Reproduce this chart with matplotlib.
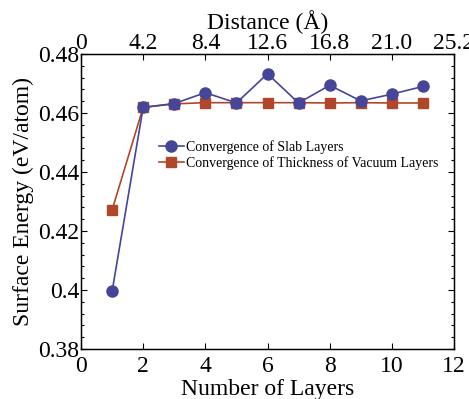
import matplotlib
matplotlib.use("Agg")
import matplotlib.pyplot as plt
from matplotlib.ticker import MultipleLocator, FixedLocator

layers = [1, 2, 3, 4, 5, 6, 7, 8, 9, 10, 11]
slab = [0.3995, 0.4619, 0.4632, 0.4669, 0.4634, 0.4733, 0.4634, 0.4694, 0.4641, 0.4664, 0.4690]
vacuum = [0.4271, 0.4619, 0.4631, 0.4635, 0.4635, 0.4635, 0.4635, 0.4634, 0.4635, 0.4634, 0.4634]
top_ticks = [0, 4.2, 8.4, 12.6, 16.8, 21.0, 25.2]
top_labels = ["0", "4.2", "8.4", "12.6", "16.8", "21.0", "25.2"]

plt.rcParams['font.family'] = ['Liberation Serif', 'DejaVu Serif']
plt.rcParams['mathtext.fontset'] = 'stix'

fig = plt.figure(figsize=(4.69, 3.99), dpi=100)
ax = fig.add_axes([81/469, 1-349/399, (454-81)/469, (349-54)/399])

blue = '#45459a'
red = '#b0462a'
ax.plot(layers, slab, '-o', color=blue, lw=1.2, ms=8, label='Convergence of Slab Layers', zorder=3)
ax.plot(layers, vacuum, '-s', color=red, lw=1.2, ms=6.5, label='Convergence of Thickness of Vacuum Layers', zorder=2)

ax.set_xlim(0, 12)
ax.set_ylim(0.38, 0.48)
ax.set_xticks([0, 2, 4, 6, 8, 10, 12])
ax.set_yticks([0.38, 0.40, 0.42, 0.44, 0.46, 0.48])
ax.set_yticklabels(['0.38', '0.4', '0.42', '0.44', '0.46', '0.48'])
ax.yaxis.set_minor_locator(MultipleLocator(0.004))
ax.tick_params(which='both', direction='in', top=False, right=True, labelsize=17, width=0.8)
ax.tick_params(which='major', length=4)
ax.tick_params(which='minor', length=2.5)
ax.tick_params(axis='x', pad=5)
ax.tick_params(axis='y', pad=1)
for s in ax.spines.values():
    s.set_linewidth(1.0)

ax.set_xlabel('Number of Layers', fontsize=17, labelpad=1.5)
ax.set_ylabel('Surface Energy (eV/atom)', fontsize=17, labelpad=3.5)

ax2 = ax.twiny()
ax2.set_xlim(0, 25.2)
ax2.xaxis.set_major_locator(FixedLocator(top_ticks))
ax2.set_xticklabels(top_labels)
ax2.tick_params(direction='in', labelsize=17, length=4, width=0.8, pad=0)
ax2.set_xlabel('Distance (Å)', fontsize=17, labelpad=2.5)

leg = ax.legend(loc='upper left', bbox_to_anchor=(0.193, 0.728), frameon=False, fontsize=10,
                handlelength=1.8, handletextpad=0.2, borderaxespad=0, labelspacing=0.2)

fig.savefig('out.png', dpi=100)
